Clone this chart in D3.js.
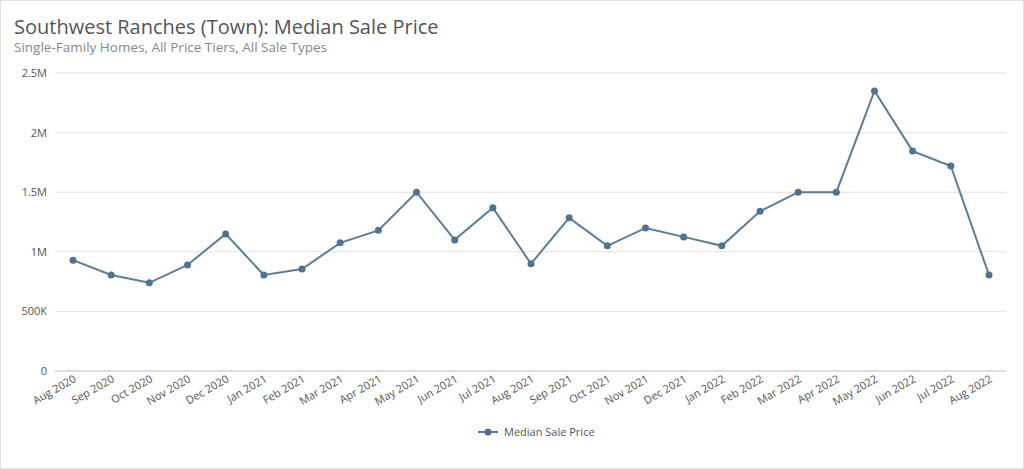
<!DOCTYPE html>
<html><head><meta charset="utf-8">
<script src="https://cdn.jsdelivr.net/npm/d3@7"></script>
<style>body{margin:0;background:#fff;font-family:"Open Sans",sans-serif}</style>
</head><body><svg id="c" width="1024" height="469"></svg>
<script>
var months = ["Aug 2020","Sep 2020","Oct 2020","Nov 2020","Dec 2020","Jan 2021","Feb 2021","Mar 2021","Apr 2021","May 2021","Jun 2021","Jul 2021","Aug 2021","Sep 2021","Oct 2021","Nov 2021","Dec 2021","Jan 2022","Feb 2022","Mar 2022","Apr 2022","May 2022","Jun 2022","Jul 2022","Aug 2022"];
var prices = [930000,805000,740000,890000,1150000,805000,855000,1075000,1180000,1500000,1100000,1370000,900000,1285000,1050000,1200000,1125000,1050000,1340000,1500000,1500000,2350000,1845000,1720000,805000];
var yTicks = [0,500000,1000000,1500000,2000000,2500000];
var yLabels = ["0","500K","1M","1.5M","2M","2.5M"];

var svg = d3.select("#c");
svg.append("rect").attr("x",0.5).attr("y",0.5).attr("width",1023).attr("height",468)
  .attr("fill","#fff").attr("stroke","#e3e3e3");
svg.append("text").attr("x",14).attr("y",34).attr("font-size",20).attr("fill","#555")
  .text("Southwest Ranches (Town): Median Sale Price");
svg.append("text").attr("x",14).attr("y",52).attr("font-size",13.5).attr("fill","#888")
  .text("Single-Family Homes, All Price Tiers, All Sale Types");

var x = d3.scalePoint().domain(months).range([73,989]);
var y = d3.scaleLinear().domain([0,2500000]).range([371,73]);

svg.selectAll(".grid").data(yTicks).enter().append("line")
  .attr("x1",55).attr("x2",1006).attr("y1",d=>y(d)).attr("y2",d=>y(d))
  .attr("stroke",d=>d===0?"#bbb":"#e0e0e0");
svg.selectAll(".yl").data(yTicks).enter().append("text")
  .attr("x",47).attr("y",d=>y(d)+4).attr("text-anchor","end")
  .attr("font-size",11).attr("fill","#555").text((d,i)=>yLabels[i]);

svg.selectAll(".xl").data(months).enter().append("text")
  .attr("transform",d=>"translate("+(x(d)+4)+",381) rotate(-30)")
  .attr("text-anchor","end").attr("font-size",11).attr("fill","#555").text(d=>d);

var line = d3.line().x((d,i)=>x(months[i])).y(d=>y(d));
svg.append("path").datum(prices).attr("d",line).attr("fill","none")
  .attr("stroke","#5a7d9a").attr("stroke-width",2);
svg.selectAll(".pt").data(prices).enter().append("circle")
  .attr("cx",(d,i)=>x(months[i])).attr("cy",d=>y(d)).attr("r",3.5).attr("fill","#4f7391");

var lg = svg.append("g").attr("transform","translate(478,432)");
lg.append("line").attr("x1",0).attr("x2",20).attr("stroke","#5a7d9a").attr("stroke-width",2);
lg.append("circle").attr("cx",10).attr("r",3.5).attr("fill","#4f7391");
lg.append("text").attr("x",26).attr("y",4).attr("font-size",11).attr("fill","#555").text("Median Sale Price");
</script></body></html>
